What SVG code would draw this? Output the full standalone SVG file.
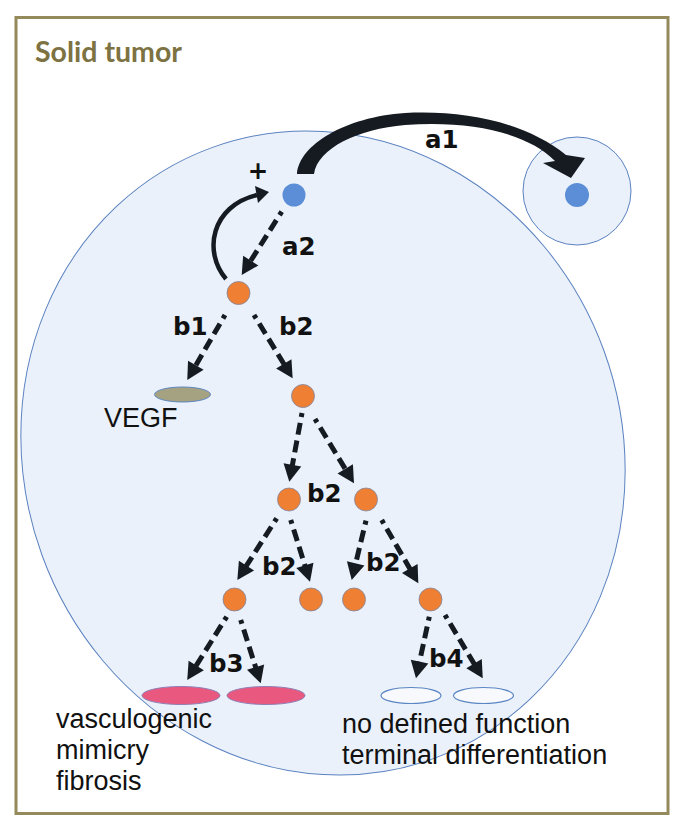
<svg xmlns="http://www.w3.org/2000/svg" width="685" height="832" viewBox="0 0 685 832">
<style>
.lbl{font-family:"DejaVu Sans",sans-serif;font-weight:bold;font-size:24.5px;fill:#111}
.txt{font-family:"Liberation Sans",Arial,sans-serif;font-size:27px;fill:#111}
.on{fill:#ee7f33;stroke:#7d88a6;stroke-width:0.8}
.bn{fill:#5b8ed6}
.dash{fill:none;stroke:#161b22;stroke-width:5;stroke-dasharray:12 6;stroke-dashoffset:8;marker-end:url(#ah)}
</style>
<defs>
<marker id="ah" markerUnits="userSpaceOnUse" markerWidth="17" markerHeight="18" refX="5" refY="9" orient="auto" overflow="visible">
<path d="M0,0 L17,9 L0,18 Z" fill="#161b22"/>
</marker>
</defs>
<rect x="0" y="0" width="685" height="832" fill="#fff"/>
<rect id="frame" x="16" y="17.5" width="652" height="796" fill="#fff" stroke="#958a5c" stroke-width="3"/>
<text x="35" y="62" font-family="Lato,'Open Sans',sans-serif" font-weight="bold" font-size="28.5" fill="#7d7242">Solid tumor</text>
<g id="tumor">
<ellipse cx="0" cy="0" rx="299" ry="325" transform="translate(323,453) rotate(-20)" fill="#eaf1fa" stroke="#5b82c0" stroke-width="1"/>
</g>
<g id="satellite">
<circle cx="577" cy="191" r="54" fill="#eaf1fa" stroke="#5b82c0" stroke-width="1"/>
</g>
<g id="connectors">
<path d="M297,174 C299,145 345,117 405,113 C465,110 525,122 566,155 L585,158 L571,178 L543,163 L555,161 C528,133 470,120 405,125 C358,129 318,148 314,174 Z" fill="#161b22"/>
<path d="M226,279 C203,252 211,206 257,195" fill="none" stroke="#161b22" stroke-width="4.5"/>
<path d="M255,186 L269,192 L258,203 Z" fill="#161b22"/>
<path class="dash" d="M281.7,211.7 L248.1,264.9"/>
<path class="dash" d="M225,315 L193.3,369.6"/>
<path class="dash" d="M254,315 L286.4,368.1"/>
<path class="dash" d="M302,413 L291.5,469.9"/>
<path class="dash" d="M315,419 L347.8,473.1"/>
<path class="dash" d="M276.7,518.3 L243.8,569.9"/>
<path class="dash" d="M290.7,520 L306.4,570.2"/>
<path class="dash" d="M366,520.7 L354.5,568.3"/>
<path class="dash" d="M381.7,520 L412.3,572.9"/>
<path class="dash" d="M226.7,616.7 L193.6,669.8"/>
<path class="dash" d="M240.7,620 L257.1,671.9"/>
<path class="dash" d="M429.3,616.7 L418.5,666.6"/>
<path class="dash" d="M445,615 L476.6,668"/>
</g>
<g id="stem"><circle class="bn" cx="294" cy="195" r="11.5"/></g>
<g id="metastasis"><circle class="bn" cx="577" cy="195" r="12"/></g>
<g id="n1"><circle class="on" cx="238.5" cy="293" r="11.5"/></g>
<g id="n2"><circle class="on" cx="303" cy="396" r="11.5"/></g>
<g id="n3"><circle class="on" cx="289" cy="499.5" r="11.5"/></g>
<g id="n4"><circle class="on" cx="366" cy="499.5" r="11.5"/></g>
<g id="n5"><circle class="on" cx="234.5" cy="599.5" r="11.5"/></g>
<g id="n6"><circle class="on" cx="311" cy="599.5" r="11.5"/></g>
<g id="n7"><circle class="on" cx="354" cy="599.5" r="11.5"/></g>
<g id="n8"><circle class="on" cx="430.5" cy="599.5" r="11.5"/></g>
<g id="vegf">
<ellipse cx="182.5" cy="394.5" rx="28" ry="7.5" fill="#a5a282" stroke="#5f86bf" stroke-width="1"/>
<text class="txt" x="104" y="427">VEGF</text>
</g>
<g id="pink1"><ellipse cx="181" cy="695.5" rx="39" ry="9" fill="#e9587f" stroke="#8f7fb5" stroke-width="1"/></g>
<g id="pink2"><ellipse cx="266" cy="695.5" rx="39" ry="9" fill="#e9587f" stroke="#8f7fb5" stroke-width="1"/></g>
<g id="white1"><ellipse cx="411" cy="695.5" rx="30" ry="8" fill="#f7f9fc" stroke="#5b86c4" stroke-width="1.2"/></g>
<g id="white2"><ellipse cx="483.5" cy="695.5" rx="30" ry="8" fill="#f7f9fc" stroke="#5b86c4" stroke-width="1.2"/></g>
<g id="labels">
<text class="lbl" x="425" y="148">a1</text>
<text class="lbl" x="282" y="255">a2</text>
<text class="lbl" x="258" y="179" text-anchor="middle" font-size="20">+</text>
<text class="lbl" x="173" y="335">b1</text>
<text class="lbl" x="279" y="335">b2</text>
<text class="lbl" x="307" y="502">b2</text>
<text class="lbl" x="262" y="575">b2</text>
<text class="lbl" x="366" y="571">b2</text>
<text class="lbl" x="209" y="672">b3</text>
<text class="lbl" x="429" y="667">b4</text>
</g>
<g id="outcomes">
<text class="txt" x="56" y="728">vasculogenic</text>
<text class="txt" x="56" y="759">mimicry</text>
<text class="txt" x="56" y="790">fibrosis</text>
<text class="txt" x="342" y="733">no defined function</text>
<text class="txt" x="342" y="764">terminal differentiation</text>
</g>
</svg>
